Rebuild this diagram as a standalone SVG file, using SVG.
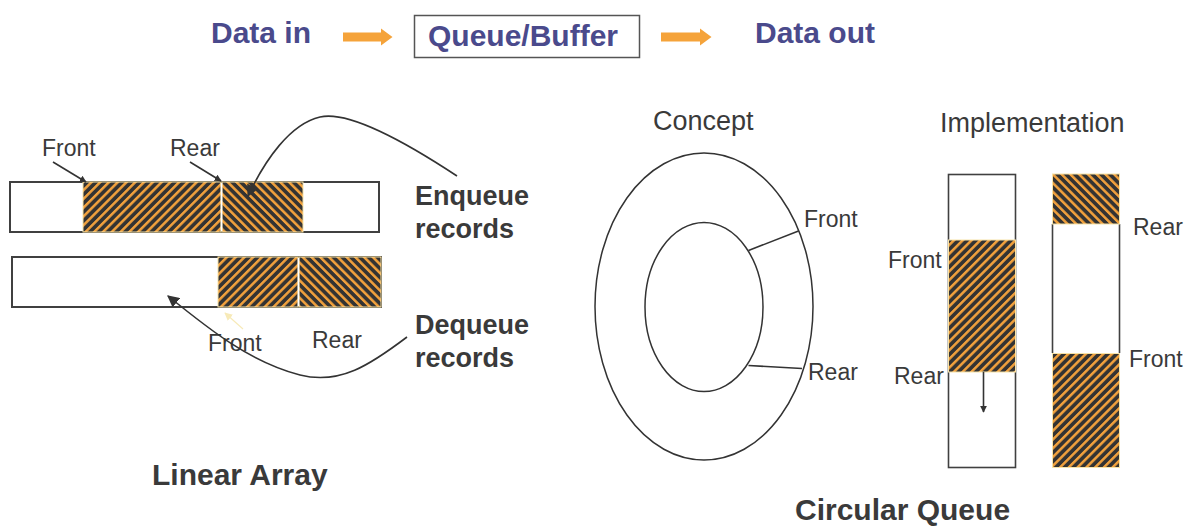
<svg xmlns="http://www.w3.org/2000/svg" width="1190" height="527" viewBox="0 0 1190 527">
<style>
.t{font-family:"Liberation Sans",Arial,sans-serif;fill:#3a3a3a;font-size:23px}
.h{font-family:"Liberation Sans",Arial,sans-serif;fill:#3a3a3a;font-size:27px}
.b{font-family:"Liberation Sans",Arial,sans-serif;fill:#3a3a3a;font-weight:bold;font-size:27px}
.big{font-family:"Liberation Sans",Arial,sans-serif;fill:#3a3a3a;font-weight:bold;font-size:30px}
.p{font-family:"Liberation Sans",Arial,sans-serif;fill:#4a4a8c;font-weight:bold;font-size:30px}
.box{fill:#fff;stroke:#404040;stroke-width:2}
.ln{fill:none;stroke:#333;stroke-width:1.6}
.ell{fill:none;stroke:#333;stroke-width:1.5}
.hs{stroke:#f7e3a8;stroke-width:1}
</style>
<defs>
<pattern id="hr" patternUnits="userSpaceOnUse" width="6.2" height="6.2" patternTransform="rotate(45)">
<rect width="6.2" height="6.2" fill="#333"/>
<rect width="2.5" height="6.2" fill="#f2a13c"/>
</pattern>
<pattern id="hl" patternUnits="userSpaceOnUse" width="6.2" height="6.2" patternTransform="rotate(-45)">
<rect width="6.2" height="6.2" fill="#333"/>
<rect width="2.5" height="6.2" fill="#f2a13c"/>
</pattern>
<marker id="ah" viewBox="0 0 10 10" refX="9" refY="5" markerWidth="7" markerHeight="7" orient="auto" markerUnits="userSpaceOnUse">
<path d="M0,0 L10,5 L0,10 z" fill="#333"/>
</marker>
<marker id="ahb" viewBox="0 0 10 10" refX="9" refY="5" markerWidth="12" markerHeight="12" orient="auto" markerUnits="userSpaceOnUse">
<path d="M0,0 L10,5 L0,10 z" fill="#333"/>
</marker>
<marker id="ahy" viewBox="0 0 10 10" refX="9" refY="5" markerWidth="8" markerHeight="8" orient="auto" markerUnits="userSpaceOnUse">
<path d="M0,0 L10,5 L0,10 z" fill="#f7eab8"/>
</marker>
</defs>

<g id="header">
<text class="p" x="211" y="43">Data in</text>
<path d="M343,32.5 H381 V28.5 L392.5,37 L381,45.5 V41.5 H343 z" fill="#f5a33a"/>
<g id="queue-buffer">
<rect x="414.5" y="15.5" width="225" height="42" fill="#fff" stroke="#555" stroke-width="1.5"/>
<text class="p" x="428" y="46">Queue/Buffer</text>
</g>
<path d="M661,32.5 H700 V28.5 L711.5,37 L700,45.5 V41.5 H661 z" fill="#f5a33a"/>
<text class="p" x="755" y="43">Data out</text>
</g>

<g id="linear-array">
<g id="bar-top">
<rect class="box" x="10" y="182" width="369" height="50"/>
<rect x="83" y="182" width="138" height="50" fill="url(#hr)" class="hs"/>
<rect x="222" y="182" width="81" height="50" fill="url(#hl)" class="hs"/>
<line x1="221.5" y1="183" x2="221.5" y2="231" stroke="#fff" stroke-width="1.5"/>
</g>
<g id="bar-bottom">
<rect class="box" x="12" y="257" width="369" height="50"/>
<rect x="218" y="257" width="80" height="50" fill="url(#hr)" class="hs"/>
<rect x="299" y="257" width="82" height="50" fill="url(#hl)" class="hs"/>
<line x1="298.5" y1="258" x2="298.5" y2="306" stroke="#fff" stroke-width="1.5"/>
</g>
<text class="t" x="42" y="156">Front</text>
<text class="t" x="170" y="156">Rear</text>
<text class="t" x="208" y="351">Front</text>
<text class="t" x="312" y="348">Rear</text>
<g id="enqueue">
<text class="b" x="415" y="205">Enqueue</text>
<text class="b" x="415" y="238">records</text>
</g>
<g id="dequeue">
<text class="b" x="415" y="334">Dequeue</text>
<text class="b" x="415" y="367">records</text>
</g>
<text class="big" x="152" y="485">Linear Array</text>
</g>

<g id="circular-queue">
<text class="h" x="653" y="130">Concept</text>
<ellipse class="ell" cx="704" cy="306.5" rx="109" ry="153.5"/>
<ellipse class="ell" cx="704" cy="307" rx="59" ry="84.5"/>
<text class="t" x="804" y="227">Front</text>
<text class="t" x="808" y="380">Rear</text>
<text class="h" x="940" y="132">Implementation</text>
<g id="col-left">
<rect x="948.5" y="174.5" width="67" height="293" fill="#fff" stroke="#404040" stroke-width="1.6"/>
<rect x="948.5" y="240" width="67" height="132" fill="url(#hr)" class="hs"/>
</g>
<g id="col-right">
<line x1="1052.5" y1="224" x2="1052.5" y2="353" stroke="#404040" stroke-width="1.6"/>
<line x1="1119.5" y1="224" x2="1119.5" y2="353" stroke="#404040" stroke-width="1.6"/>
<rect x="1052.5" y="174" width="67" height="50" fill="url(#hl)" class="hs"/>
<rect x="1052.5" y="353.5" width="67" height="114" fill="url(#hr)" class="hs"/>
</g>
<text class="t" x="888" y="268">Front</text>
<text class="t" x="894" y="384">Rear</text>
<text class="t" x="1133" y="235">Rear</text>
<text class="t" x="1129" y="367">Front</text>
<text class="big" x="795" y="520">Circular Queue</text>
</g>

<g id="connectors">
<line class="ln" x1="53" y1="162" x2="86" y2="182" marker-end="url(#ah)"/>
<line class="ln" x1="190" y1="162" x2="221" y2="181" marker-end="url(#ah)"/>
<path class="ln" d="M457,176 C410,145 350,110 320,117 C290,124 265,160 248,196" marker-end="url(#ahb)"/>
<path class="ln" d="M407,337 C370,365 340,385 300,375 C250,362 210,330 168,296" marker-end="url(#ahb)"/>
<line x1="243" y1="329" x2="225" y2="313" stroke="#f7eab8" stroke-width="1.2" marker-end="url(#ahy)"/>
<line class="ln" x1="748.5" y1="250.5" x2="798.5" y2="231"/>
<line class="ln" x1="748.5" y1="365.5" x2="802" y2="368.5"/>
<line class="ln" x1="983.5" y1="372" x2="983.5" y2="412" marker-end="url(#ah)"/>
</g>
</svg>
